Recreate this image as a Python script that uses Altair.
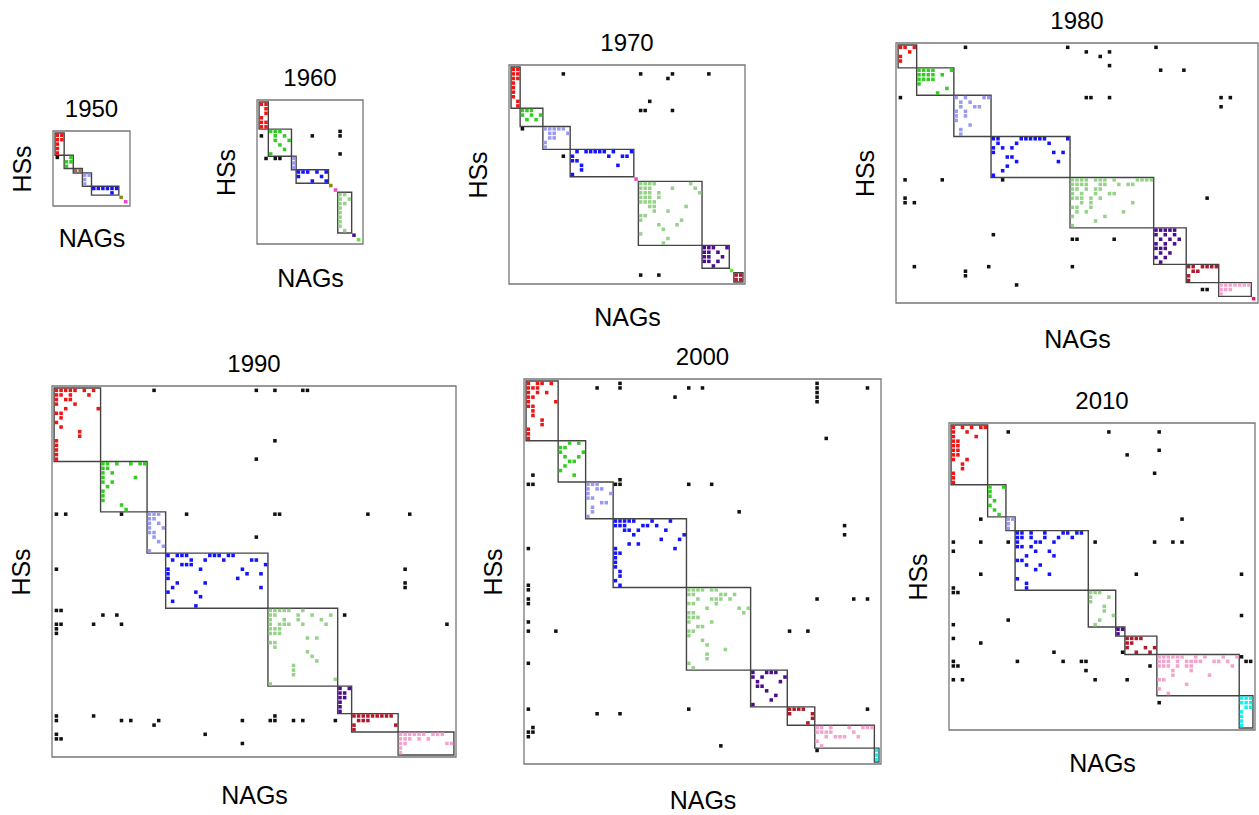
import altair as alt
import pandas as pd

FONT = "Liberation Sans"

# ---------------- data ----------------
GROUPS = ["black", "red", "green", "lav", "blue", "lgreen", "purple", "crimson",
          "pink", "cyan", "olive", "magenta", "rose", "lime", "brown"]
GROUP_COLORS = ["#111111", "#f01414", "#33cc22", "#9a9af0", "#1414ff", "#96d28a",
                "#4b0f8c", "#b01a2c", "#f3a3cd", "#1ceeee", "#8b8b10", "#ee44cc",
                "#e8146e", "#66e633", "#9c6b5e"]

YEARS = [1950, 1960, 1970, 1980, 1990, 2000, 2010]
NCOLS = [16, 22, 51, 77, 86, 77, 66]   # NAGs
NROWS = [16, 31, 47, 56, 80, 83, 66]   # HSs

# blocks: (group, col_start, col_end, row_start, row_end)
BLOCKS_1950 = [("red", 0, 2, 0, 5), ("green", 2, 4, 5, 8), ("brown", 4, 6, 8, 9),
               ("lav", 6, 8, 9, 12), ("blue", 8, 14, 12, 14)]
BLOCKS_1960 = [("red", 0, 2, 0, 6), ("green", 2, 7, 6, 12), ("lav", 7, 8, 12, 15),
               ("blue", 8, 15, 15, 18), ("lgreen", 17, 20, 20, 29)]
BLOCKS_1970 = [("red", 0, 2, 0, 9), ("green", 2, 7, 9, 13), ("lav", 7, 13, 13, 18),
               ("blue", 13, 27, 18, 24), ("lgreen", 28, 42, 25, 39),
               ("purple", 42, 48, 39, 44), ("crimson", 49, 51, 45, 47)]
BLOCKS_1980 = [("red", 0, 4, 0, 5), ("green", 4, 12, 5, 11), ("lav", 12, 20, 11, 20),
               ("blue", 20, 37, 20, 29), ("lgreen", 37, 55, 29, 40),
               ("purple", 55, 62, 40, 48), ("crimson", 62, 69, 48, 52),
               ("pink", 69, 76, 52, 55)]
BLOCKS_1990 = [("red", 0, 10, 0, 16), ("green", 10, 20, 16, 27), ("lav", 20, 24, 27, 36),
               ("blue", 24, 46, 36, 48), ("lgreen", 46, 61, 48, 65),
               ("purple", 61, 64, 65, 71), ("crimson", 64, 74, 71, 75),
               ("pink", 74, 86, 75, 80)]
BLOCKS_2000 = [("red", 0, 7, 0, 13), ("green", 7, 13, 13, 22), ("lav", 13, 19, 22, 30),
               ("blue", 19, 35, 30, 45), ("lgreen", 35, 49, 45, 63),
               ("purple", 49, 57, 63, 71), ("crimson", 57, 63, 71, 75),
               ("pink", 63, 76, 75, 80), ("cyan", 76, 77, 80, 83)]
BLOCKS_2010 = [("red", 0, 8, 0, 13), ("green", 8, 12, 13, 20), ("lav", 12, 14, 20, 23),
               ("blue", 14, 30, 23, 36), ("lgreen", 30, 36, 36, 44),
               ("purple", 36, 38, 44, 46), ("crimson", 38, 45, 46, 50),
               ("pink", 45, 63, 50, 59), ("cyan", 63, 66, 59, 66)]

# points: group -> {row: [cols]}
POINTS_1950 = {
    "red": {0: [0, 1], 1: [0, 1], 2: [0], 3: [0], 4: [0]},
    "black": {5: [0]},
    "green": {5: [3], 6: [2, 3], 7: [2]},
    "brown": {8: [4, 5]},
    "lav": {9: [6, 7], 10: [6], 11: [6]},
    "blue": {12: [8, 9, 10, 11, 12, 13], 13: [12]},
    "olive": {14: [14]},
    "magenta": {15: [15]},
}
POINTS_1960 = {
    "red": {0: [0, 1], 1: [1], 2: [1], 3: [0], 4: [0, 1], 5: [0, 1]},
    "green": {6: [2, 3, 4], 7: [3, 5], 8: [3, 6], 9: [4], 10: [5], 11: [2]},
    "lav": {12: [7], 13: [7], 14: [7]},
    "blue": {15: [8, 9, 10, 12, 14], 16: [8, 13], 17: [11, 14]},
    "olive": {18: [15]},
    "magenta": {19: [16]},
    "lgreen": {20: [17, 18], 21: [17, 19], 22: [17, 18], 23: [17], 24: [17], 25: [17],
               26: [17], 27: [17], 28: [18]},
    "purple": {29: [20]},
    "lime": {30: [21]},
    "black": {6: [17], 7: [0, 11, 17], 11: [17], 12: [1, 3, 4]},
}
POINTS_1970 = {
    "red": {0: [0, 1], 1: [0, 1], 2: [0, 1], 3: [0], 4: [0], 5: [0], 6: [0], 7: [1], 8: [1]},
    "green": {9: [2, 3, 4], 10: [2, 4, 6], 11: [3, 5]},
    "lav": {13: [7, 8, 9, 10, 11], 14: [8, 9, 12], 15: [8, 9], 16: [7], 17: [7]},
    "blue": {18: [14, 16, 17, 18, 19, 20, 22, 26], 19: [13, 21, 24, 25], 20: [13, 14],
             21: [15, 23], 22: [15], 23: [13]},
    "magenta": {24: [27]},
    "lgreen": {25: [28, 29, 30, 31, 39], 26: [28, 29, 30, 35, 40], 27: [28, 29, 30, 32, 41],
               28: [28, 29, 30, 32], 29: [28, 29, 30, 31], 30: [30, 31, 38], 31: [31, 34],
               32: [28, 29], 33: [28, 37], 34: [32, 36], 35: [33], 36: [28], 37: [34],
               38: [33]},
    "purple": {39: [42, 43, 44, 47], 40: [42, 43, 45], 41: [42, 43, 46], 42: [42, 43, 45],
               43: [44]},
    "lime": {44: [48]},
    "crimson": {45: [49, 50], 46: [49, 50]},
    "black": {1: [11, 28, 35, 43], 2: [34], 7: [30], 9: [28, 29, 35], 13: [2], 19: [11],
              45: [28, 32]},
}
POINTS_1980 = {
    "red": {0: [0, 1, 3], 1: [2], 2: [0], 3: [0]},
    "green": {5: [4, 5, 6, 7, 11], 6: [4, 5, 6, 7, 9], 7: [4, 5, 6, 7], 8: [4], 9: [10],
              10: [8]},
    "lav": {11: [12, 14, 18, 19], 12: [13, 15], 13: [13, 16, 17], 14: [12, 14],
            15: [12, 14], 16: [12], 17: [15], 18: [13], 19: [13]},
    "blue": {20: [20, 21, 26, 27, 28, 29, 30, 31, 36], 21: [21, 25, 32], 22: [20, 22, 24],
             23: [20, 33, 35], 24: [23, 24], 25: [25, 34], 26: [23], 27: [22], 28: [20]},
    "lgreen": {29: [37, 38, 39, 40, 42, 43, 44, 46, 51, 52, 53, 54],
               30: [37, 38, 39, 40, 43, 44, 47, 49, 50], 31: [37, 38, 40, 42, 43],
               32: [37, 39, 42, 45, 46], 33: [37, 38, 39, 41, 43], 34: [39, 41, 50],
               35: [37, 38, 41], 36: [38, 40, 48], 37: [37, 44], 38: [42], 39: [37]},
    "purple": {40: [55, 56, 57, 58, 59], 41: [55, 57, 59], 42: [56, 58, 60],
               43: [55, 57, 59], 44: [55, 56, 57], 45: [56, 58], 46: [55, 57], 47: [56]},
    "crimson": {48: [62, 63, 65, 66, 67, 68], 49: [63, 64], 50: [62], 51: [62]},
    "pink": {52: [69, 70, 71, 72, 73, 74, 75], 53: [69, 70, 71], 54: [69]},
    "rose": {55: [76]},
    "black": {0: [14, 36, 55], 1: [40, 45], 2: [43], 4: [45], 5: [56, 61],
              11: [0, 40, 41, 45, 69, 71], 13: [69], 29: [1, 9, 22], 33: [1, 66],
              34: [1, 3], 41: [20], 42: [37, 38, 46], 48: [3, 19, 37], 49: [14],
              50: [14], 52: [25], 53: [65, 66]},
}
POINTS_1990 = {
    "red": {0: [0, 1, 2, 3, 4, 6, 8], 1: [0, 1, 3, 7], 2: [0, 2, 3], 3: [0, 4], 4: [2, 9],
            5: [0, 1], 6: [1], 7: [0], 8: [1], 9: [5], 10: [5], 11: [0], 12: [0], 13: [0],
            14: [0], 15: [0]},
    "green": {16: [10, 11, 13, 16, 18, 19], 17: [10, 11], 18: [10, 12], 19: [10, 17],
              20: [10, 12], 21: [11], 22: [10], 23: [10], 24: [10], 25: [14], 26: [15]},
    "lav": {27: [20, 21, 22], 28: [20, 21], 29: [20, 22], 30: [20, 23], 31: [20, 21],
            32: [21], 33: [22], 34: [23], 35: [20]},
    "blue": {36: [24, 26, 27, 28, 33, 34, 35, 37, 38], 37: [25, 29, 32, 36, 42, 43],
             38: [27, 28, 29, 45], 39: [24, 31, 40], 40: [24, 41, 44], 41: [24, 39],
             42: [26, 32], 43: [25, 44], 44: [24, 30], 45: [31], 46: [25], 47: [30]},
    "lgreen": {48: [46, 47, 48, 49, 50, 53], 49: [46, 47, 52, 55, 59], 50: [46, 49, 52, 57],
               51: [46, 48, 49, 50, 53, 58], 52: [46, 47, 48], 53: [46, 47, 48],
               54: [54, 56], 55: [46, 47], 56: [47], 57: [54], 58: [55], 59: [56],
               60: [51], 61: [51], 62: [51], 63: [60], 64: [46]},
    "purple": {65: [61, 63], 66: [61, 62], 67: [61, 62], 68: [61], 69: [61], 70: [61]},
    "crimson": {71: [64, 65, 66, 67, 68, 69, 70, 71, 72], 72: [65, 66, 67], 73: [64, 73],
                74: [64]},
    "pink": {75: [74, 75, 76, 77, 78, 79, 81, 82, 83], 76: [74, 75, 76, 78, 80],
             77: [74, 75, 84, 85], 78: [74], 79: [74]},
    "black": {0: [21, 43, 47, 53, 54], 11: [47], 15: [43],
              27: [0, 2, 14, 28, 47, 48, 67, 76], 32: [43], 39: [0, 75], 42: [75],
              43: [75], 48: [0, 1], 49: [10, 13, 62], 51: [0, 1, 8, 14, 84], 52: [0],
              53: [0], 71: [0, 8, 47], 72: [0, 14, 16, 22, 40, 46, 47, 51, 53, 60],
              73: [21], 75: [0, 32], 76: [0, 1], 77: [40]},
}
POINTS_2000 = {
    "red": {0: [0, 2, 3, 5], 1: [0, 1, 2], 2: [0, 2, 4], 3: [0, 1], 4: [0, 6], 5: [0, 1],
            6: [1], 7: [1], 8: [3], 9: [3], 10: [0], 11: [0], 12: [0]},
    "green": {13: [9, 11], 14: [7, 8], 15: [7, 12], 16: [8, 11], 17: [9, 10], 18: [8],
              19: [7], 20: [10]},
    "lav": {22: [13, 14, 15], 23: [13, 15, 16], 24: [13, 18], 25: [13, 14], 26: [16, 17],
            27: [14], 28: [14], 29: [13]},
    "blue": {30: [19, 20, 21, 22, 23, 27, 31], 31: [19, 20, 21, 25, 26, 28],
             32: [21, 22, 24, 30], 33: [23, 34], 34: [29, 33], 35: [22, 24], 36: [19, 32],
             37: [19, 20], 38: [19], 39: [19], 40: [19], 41: [20], 42: [20], 43: [19],
             44: [20]},
    "lgreen": {45: [35, 36, 37, 38, 40, 41], 46: [35, 36, 42, 43, 45],
               47: [37, 40, 41, 42, 44], 48: [35, 36, 41], 49: [39, 46, 48],
               50: [35, 36, 47], 51: [35, 36, 37], 52: [35, 40], 53: [37, 38], 54: [35, 36],
               55: [35], 56: [38], 57: [39], 58: [43], 59: [39], 60: [39], 61: [35],
               62: [36]},
    "purple": {63: [49, 52, 53, 54], 64: [49, 51, 56], 65: [50, 55], 66: [50, 51], 67: [52],
               68: [54], 69: [53], 70: [49]},
    "crimson": {71: [57, 58, 59, 60], 72: [57, 62], 73: [62], 74: [61]},
    "pink": {75: [63, 64, 66, 70, 73, 74, 75], 76: [63, 64, 65, 66, 71],
             77: [65, 67, 68, 69, 72], 78: [63], 79: [64]},
    "cyan": {80: [76], 81: [76], 82: [76]},
    "black": {0: [20, 63], 1: [15, 20, 35, 38, 63, 74], 2: [63], 3: [32, 63], 4: [63],
              12: [65], 20: [1], 21: [20], 22: [0, 1, 19, 20, 35, 40], 28: [46], 31: [69],
              33: [69], 36: [0], 44: [0], 45: [0], 47: [0, 63, 71, 74], 48: [0], 52: [0],
              54: [0, 6, 57, 61], 61: [0], 71: [0, 35, 74], 72: [15, 20], 75: [1],
              76: [0, 1], 77: [0], 79: [42], 80: [63]},
}
POINTS_2010 = {
    "red": {0: [0, 2, 4, 6, 7], 1: [0, 3], 2: [0, 5], 3: [0, 1], 4: [0, 1], 5: [0, 1],
            6: [0, 1], 7: [0, 3], 8: [2], 9: [2], 10: [0], 11: [0], 12: [0]},
    "green": {13: [8, 11], 14: [8], 15: [8], 16: [9], 17: [8], 18: [9], 19: [10]},
    "lav": {20: [12, 13], 21: [12], 22: [12]},
    "blue": {23: [14, 15, 17, 20, 24, 25, 27, 28], 24: [14, 15, 17, 20, 23, 26],
             25: [14, 18, 19, 22], 26: [14, 15, 17], 27: [18, 21], 28: [16, 22],
             29: [14, 15], 30: [16, 19], 31: [18], 32: [21], 33: [14], 34: [16], 35: [16]},
    "lgreen": {36: [30, 31, 32], 37: [30, 34], 38: [30], 39: [33], 40: [33], 41: [35],
               42: [32], 43: [31]},
    "purple": {44: [36, 37], 45: [36]},
    "crimson": {46: [38, 39, 40, 41], 47: [38, 39], 48: [38, 42, 44], 49: [40, 43]},
    "pink": {50: [45, 46, 47, 48, 49, 50, 53, 55, 59, 62],
             51: [45, 46, 47, 49, 51, 52, 53, 54, 57, 58, 60],
             52: [45, 46, 47, 49, 51, 52, 61], 53: [48, 52], 54: [48, 56], 55: [45, 46],
             56: [51], 57: [45], 58: [47]},
    "cyan": {59: [63, 64, 65], 60: [63, 64, 65], 61: [64, 65], 62: [63], 63: [63],
             64: [63], 65: [63]},
    "black": {1: [12, 34, 45], 5: [45], 6: [38], 10: [44], 20: [6, 50],
              25: [0, 6, 12, 31, 44, 48, 50], 27: [0], 32: [6, 40, 63], 35: [0], 36: [0, 1],
              41: [63], 42: [12], 43: [0], 46: [0], 47: [6], 49: [22, 37], 50: [63],
              51: [0, 14, 24, 28, 29, 64, 65], 52: [0, 1, 43], 53: [29],
              55: [0, 2, 31, 38], 60: [45]},
}

BLOCKS = [BLOCKS_1950, BLOCKS_1960, BLOCKS_1970, BLOCKS_1980, BLOCKS_1990, BLOCKS_2000,
          BLOCKS_2010]
POINTS = [POINTS_1950, POINTS_1960, POINTS_1970, POINTS_1980, POINTS_1990, POINTS_2000,
          POINTS_2010]

# ---------------- layout (pixels) ----------------
CANVAS_W, CANVAS_H = 1259, 815
FRAME_LEFT = [53, 257, 509, 896, 52, 524, 949]
FRAME_TOP = [131, 100, 65, 43, 386, 379, 423]
FRAME_W = [77, 106, 236, 362, 404, 357, 306]
FRAME_H = [75, 144, 219, 260, 371, 385, 307]
NAGS_PAD = [20, 22, 21, 24, 26, 24, 21]
HSS_PAD = 18
PAD = 0.45

color_scale = alt.Scale(domain=GROUPS, range=GROUP_COLORS)


def panel(i):
    nc, nr = NCOLS[i], NROWS[i]
    L, T, W, H = FRAME_LEFT[i], FRAME_TOP[i], FRAME_W[i], FRAME_H[i]
    xs = alt.Scale(domain=[-PAD, nc + PAD], range=[L, L + W], nice=False, zero=False)
    ys = alt.Scale(domain=[-PAD, nr + PAD], range=[T, T + H], nice=False, zero=False)
    xax = alt.Axis(title="NAGs", orient="bottom", offset=T + H - CANVAS_H, labels=False,
                   ticks=False, domain=False, grid=False, minExtent=0,
                   titlePadding=NAGS_PAD[i], titleFont=FONT, titleFontSize=25,
                   titleFontWeight="normal", titleColor="#000000")
    yax = alt.Axis(title="HSs", orient="left", offset=-L, labels=False, ticks=False,
                   domain=False, grid=False, minExtent=0, titlePadding=HSS_PAD,
                   titleFont=FONT, titleFontSize=25, titleFontWeight="normal",
                   titleColor="#000000")

    frame_df = pd.DataFrame([{"x0": -PAD, "x1": nc + PAD, "y0": -PAD, "y1": nr + PAD}])
    block_df = pd.DataFrame([{"g": g, "x0": a, "x1": b, "y0": c, "y1": d}
                             for (g, a, b, c, d) in BLOCKS[i]])
    rows = []
    for g, d in POINTS[i].items():
        for r, cols in d.items():
            for c in cols:
                rows.append({"g": g, "cx": c + 0.5, "cy": r + 0.5})
    pts_df = pd.DataFrame(rows)
    title_df = pd.DataFrame([{"x": nc / 2, "y": -PAD, "t": str(YEARS[i])}])

    frame = alt.Chart(frame_df).mark_rect(filled=False, stroke="#777777",
                                          strokeWidth=1.3).encode(
        x=alt.X("x0:Q", scale=xs, axis=xax), x2="x1:Q",
        y=alt.Y("y0:Q", scale=ys, axis=yax), y2="y1:Q")
    blocks = alt.Chart(block_df).mark_rect(filled=False, stroke="#444444",
                                           strokeWidth=1.4).encode(
        x=alt.X("x0:Q", scale=xs, axis=xax), x2="x1:Q",
        y=alt.Y("y0:Q", scale=ys, axis=yax), y2="y1:Q")
    pts = alt.Chart(pts_df).mark_square(size=12.5, opacity=1).encode(
        x=alt.X("cx:Q", scale=xs, axis=xax),
        y=alt.Y("cy:Q", scale=ys, axis=yax),
        color=alt.Color("g:N", scale=color_scale, legend=None))
    title = alt.Chart(title_df).mark_text(font=FONT, fontSize=24, baseline="alphabetic",
                                          align="center", dy=-14, color="#000000").encode(
        x=alt.X("x:Q", scale=xs, axis=xax),
        y=alt.Y("y:Q", scale=ys, axis=yax),
        text="t:N")
    return alt.layer(frame, blocks, pts, title)


chart = alt.layer(*[panel(i) for i in range(len(YEARS))]).resolve_scale(
    x="independent", y="independent"
).properties(
    width=CANVAS_W, height=CANVAS_H, padding=0,
    autosize=alt.AutoSizeParams(type="none"),
    view=alt.ViewBackground(stroke="transparent", strokeWidth=0, fill="#ffffff")
).configure_view(stroke="transparent", strokeWidth=0).configure(background="#ffffff")

chart.save("out.html", embed_options={"renderer": "svg", "actions": False})
